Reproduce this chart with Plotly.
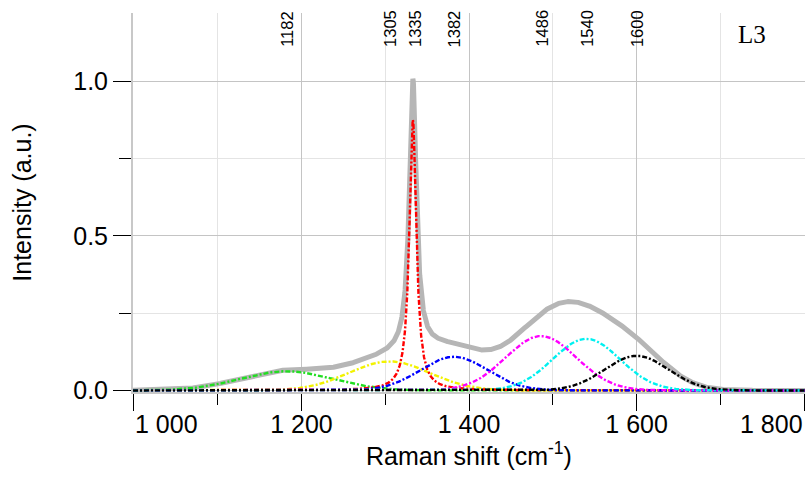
import numpy as np
import plotly.graph_objects as go

# Fitted band parameters
band_names = ["G1", "G2", "D", "G3", "G4", "G5", "G6"]
band_centers = [1182, 1305, 1333, 1382, 1486, 1540, 1600]
band_heights = [0.062, 0.094, 0.875, 0.109, 0.176, 0.167, 0.112]
band_widths = [55, 48, 5, 40, 42, 40, 38]          # sigma (Gaussian) or gamma (Lorentzian)
band_shapes = ["gauss", "gauss", "lorentz", "gauss", "gauss", "gauss", "gauss"]
band_colors = ["#22dd22", "#f2f200", "#ff0000", "#0000ff", "#ff00ff", "#00f0f0", "#000000"]

# Peak labels shown on top
peak_labels = ["1182", "1305", "1335", "1382", "1486", "1540", "1600"]
sample_label = "L3"

# Axis tick labels
x_tick_values = [1000, 1200, 1400, 1600, 1800]
x_tick_labels = ["1 000", "1 200", "1 400", "1 600", "1 800"]

x_min, x_max = 999, 1801
x = np.arange(x_min, x_max + 0.25, 0.25)


def band(xv, c, h, w, shape):
    if shape == "lorentz":
        return h / (1 + ((xv - c) / w) ** 2)
    return h * np.exp(-0.5 * ((xv - c) / w) ** 2)


components = [band(x, c, h, w, s) for c, h, w, s in
              zip(band_centers, band_heights, band_widths, band_shapes)]
fit = np.sum(components, axis=0)

fig = go.Figure()
fig.add_trace(go.Scatter(x=x, y=fit, mode="lines",
                         line=dict(color="#b6b6b6", width=5),
                         name="fit", showlegend=False))
for name, comp, col in zip(band_names, components, band_colors):
    fig.add_trace(go.Scatter(x=x, y=comp, mode="lines",
                             line=dict(color=col, width=2.4, dash="5px,2px,2px,2px"),
                             name=name, showlegend=False))

for lab in peak_labels:
    fig.add_annotation(x=float(lab), y=0.905, xref="x", yref="paper",
                       text=lab, textangle=-90, showarrow=False,
                       xanchor="center", yanchor="bottom",
                       font=dict(family="Liberation Sans", size=16.5, color="black"))

fig.add_annotation(x=0.921, y=0.942, xref="paper", yref="paper", text=sample_label,
                   showarrow=False, xanchor="center", yanchor="middle",
                   font=dict(family="Liberation Serif", size=25, color="black"))

# End tick labels kept inside the plot width (as in the original)
fig.add_annotation(x=0, y=-0.084, xref="paper", yref="paper", text=x_tick_labels[0],
                   showarrow=False, xanchor="left", yanchor="middle",
                   font=dict(family="Liberation Sans", size=25, color="black"))
fig.add_annotation(x=1, y=-0.084, xref="paper", yref="paper", text=x_tick_labels[-1],
                   showarrow=False, xanchor="right", yanchor="middle",
                   font=dict(family="Liberation Sans", size=25, color="black"))

fig.update_layout(
    width=808, height=477,
    margin=dict(l=133, r=3, t=13, b=85),
    paper_bgcolor="white", plot_bgcolor="white",
    font=dict(family="Liberation Sans", color="black"),
    showlegend=False,
)
fig.update_xaxes(
    range=[x_min, x_max], tickmode="array", tickvals=x_tick_values,
    ticktext=[""] + x_tick_labels[1:-1] + [""],
    ticks="outside", ticklen=17, tickcolor="black", tickwidth=1,
    tickfont=dict(size=25), ticklabelstandoff=-8,
    showgrid=True, gridcolor="#c4c4c4", gridwidth=1,
    showline=True, linecolor="#c8c8c8", linewidth=2,
    zeroline=False,
    minor=dict(dtick=100, tick0=1000, ticks="outside", ticklen=11, tickcolor="black",
               showgrid=True, gridcolor="#e4e4e4", gridwidth=1),
    title=dict(text="Raman shift (cm<sup>-1</sup>)", font=dict(size=25), standoff=0),
)
fig.update_yaxes(
    range=[-0.005, 1.22], tick0=0, dtick=0.5, tickformat=".1f",
    ticks="outside", ticklen=18, tickcolor="black", tickwidth=1,
    tickfont=dict(size=25),
    showgrid=True, gridcolor="#c4c4c4", gridwidth=1,
    showline=True, linecolor="#c8c8c8", linewidth=2,
    zeroline=False,
    minor=dict(dtick=0.25, tick0=0, ticks="outside", ticklen=12, tickcolor="black",
               showgrid=True, gridcolor="#e4e4e4", gridwidth=1),
    title=dict(text="Intensity (a.u.)", font=dict(size=25), standoff=34),
)

fig.write_html("out.html")
